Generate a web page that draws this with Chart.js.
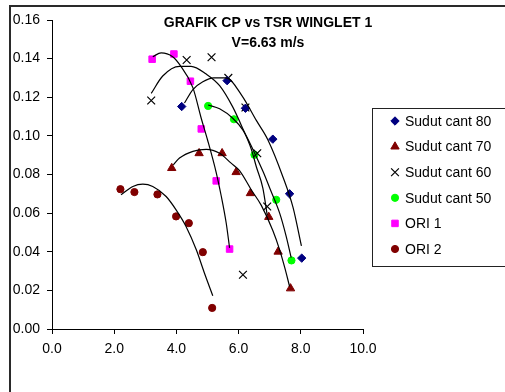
<!DOCTYPE html>
<html>
<head>
<meta charset="utf-8">
<script src="https://cdn.jsdelivr.net/npm/chart.js@4.4.1/dist/chart.umd.min.js"></script>
<style>
  html, body { margin: 0; padding: 0; background: #fff; overflow: hidden; }
  #wrap { position: relative; width: 505px; height: 392px; overflow: hidden; }
  canvas { position: absolute; left: 0; top: 0; }
</style>
</head>
<body>
<div id="wrap"><canvas id="cpChart" width="526" height="400"></canvas></div>
<script>
// Measured points (TSR, CP)
const tsr80 = [4.17, 5.63, 6.22, 7.10, 7.64, 8.03]
const cp80 = [0.1152, 0.1286, 0.1143, 0.0983, 0.0700, 0.0367]

const tsr70 = [3.85, 4.73, 5.47, 5.92, 6.38, 6.97, 7.27, 7.67]
const cp70 = [0.0833, 0.0910, 0.0910, 0.0812, 0.0703, 0.0580, 0.0400, 0.0210]

const tsr60 = [3.19, 4.33, 5.13, 5.67, 6.14, 6.22, 6.60, 6.92]
const cp60 = [0.1183, 0.1393, 0.1407, 0.1300, 0.0281, 0.1147, 0.0910, 0.0634]

const tsr50 = [5.02, 5.85, 6.51, 7.21, 7.70]
const cp50 = [0.1155, 0.1086, 0.0902, 0.0669, 0.0355]

const tsrOri1 = [3.22, 3.92, 4.45, 4.80, 5.28, 5.71]
const cpOri1 = [0.1397, 0.1424, 0.1283, 0.1036, 0.0767, 0.0414]

const tsrOri2 = [2.20, 2.65, 3.39, 3.99, 4.40, 4.85, 5.15]
const cpOri2 = [0.0724, 0.0709, 0.0697, 0.0583, 0.0548, 0.0398, 0.0109]

// Trendlines
const trend80X = [4.26, 4.53, 4.85, 5.20, 5.60, 6.10, 6.57, 6.94, 7.42, 7.75, 8.02]
const trend80Y = [0.117, 0.124, 0.128, 0.130, 0.130, 0.121, 0.108, 0.098, 0.079, 0.063, 0.043]

const trend70X = [3.90, 4.10, 4.53, 4.96, 5.39, 5.75, 6.03, 6.41, 6.73, 7.10, 7.32, 7.48, 7.64]
const trend70Y = [0.085, 0.0885, 0.092, 0.093, 0.091, 0.086, 0.082, 0.072, 0.064, 0.051, 0.041, 0.032, 0.022]

const trend60X = [3.19, 3.56, 4.10, 4.47, 4.96, 5.39, 5.81, 6.10, 6.41, 6.57, 6.78, 6.92]
const trend60Y = [0.122, 0.131, 0.136, 0.136, 0.132, 0.126, 0.115, 0.105, 0.093, 0.084, 0.073, 0.059]

const trend50X = [5.02, 5.39, 5.82, 6.14, 6.46, 6.80, 7.00, 7.32, 7.53, 7.69]
const trend50Y = [0.116, 0.114, 0.109, 0.103, 0.093, 0.081, 0.073, 0.060, 0.048, 0.037]

const trendOri1X = [3.24, 3.51, 3.88, 4.10, 4.53, 4.80, 5.00, 5.28, 5.44, 5.60, 5.71]
const trendOri1Y = [0.141, 0.143, 0.141, 0.137, 0.125, 0.109, 0.098, 0.081, 0.069, 0.055, 0.042]

const trendOri2X = [2.22, 2.60, 2.92, 3.24, 3.67, 3.99, 4.31, 4.64, 4.90, 5.17]
const trendOri2Y = [0.0695, 0.0738, 0.0750, 0.0738, 0.0686, 0.0617, 0.0531, 0.0410, 0.0290, 0.0172]

const xTicks = [0, 2, 4, 6, 8, 10]
const titleLines = ["GRAFIK CP vs TSR WINGLET 1", "V=6.63 m/s"]

const FONT = "'Liberation Sans', Arial, sans-serif"

function pts(xs, ys) {
  return xs.map((x, i) => ({ x: x, y: ys[i] }))
}

function trend(xs, ys) {
  return {
    data: pts(xs, ys),
    showLine: true,
    pointRadius: 0,
    pointHoverRadius: 0,
    borderColor: "#000000",
    borderWidth: 1.2,
    cubicInterpolationMode: "monotone",
    fill: false,
  }
}

function marker(label, xs, ys, style, radius, color, border) {
  return {
    label: label,
    inLegend: true,
    data: pts(xs, ys),
    showLine: false,
    pointStyle: style,
    pointRadius: radius,
    pointHoverRadius: radius,
    backgroundColor: style === "crossRot" ? "rgba(0,0,0,0)" : color,
    borderColor: color,
    borderWidth: border,
  }
}

// Frame, title and legend drawn like the Excel original
const excelFrame = {
  id: "excelFrame",
  beforeDraw(chart) {
    const ctx = chart.ctx
    ctx.save()
    ctx.fillStyle = "#ffffff"
    ctx.fillRect(0, 0, chart.width, chart.height)
    ctx.fillStyle = "#2a2a2a"
    ctx.fillRect(9, 5, chart.width, 2)
    ctx.fillRect(9, 5, 2, chart.height)
    ctx.restore()
  },
  afterDraw(chart) {
    const ctx = chart.ctx
    ctx.save()
    // title
    ctx.fillStyle = "#000"
    ctx.font = "bold 14px " + FONT
    ctx.textAlign = "center"
    ctx.textBaseline = "middle"
    const cx = (10 + chart.width) / 2
    titleLines.forEach((t, i) => ctx.fillText(t, cx, 23 + i * 20))

    // legend
    ctx.strokeStyle = "#222"
    ctx.lineWidth = 1
    ctx.strokeRect(372.5, 108.5, 200, 158)
    ctx.font = "14px " + FONT
    ctx.textAlign = "left"
    const items = chart.data.datasets.filter((d) => d.inLegend)
    items.forEach((d, i) => {
      const y = 121 + i * 25.6
      ctx.fillStyle = d.backgroundColor
      ctx.strokeStyle = d.borderColor
      ctx.lineWidth = d.borderWidth
      Chart.helpers.drawPoint(ctx, {
        pointStyle: d.pointStyle,
        radius: d.pointRadius,
        rotation: 0,
        borderWidth: d.borderWidth,
      }, 395, y)
      ctx.fillStyle = "#000"
      ctx.fillText(d.label, 405, y + 1)
    })
    ctx.restore()
  },
}

Chart.defaults.font.family = FONT

new Chart(document.getElementById("cpChart"), {
  type: "scatter",
  data: {
    datasets: [
      trend(trend80X, trend80Y),
      trend(trend70X, trend70Y),
      trend(trend60X, trend60Y),
      trend(trend50X, trend50Y),
      trend(trendOri1X, trendOri1Y),
      trend(trendOri2X, trendOri2Y),
      marker("Sudut cant 80", tsr80, cp80, "rectRot", 4.2, "#000080", 1),
      marker("Sudut cant 70", tsr70, cp70, "triangle", 4.8, "#800000", 1),
      marker("Sudut cant 60", tsr60, cp60, "crossRot", 5.5, "#000000", 1.2),
      marker("Sudut cant 50", tsr50, cp50, "circle", 3.6, "#00ff00", 1),
      marker("ORI 1", tsrOri1, cpOri1, "rect", 4.6, "#ff00ff", 1),
      marker("ORI 2", tsrOri2, cpOri2, "circle", 3.6, "#800000", 1),
    ],
  },
  options: {
    responsive: false,
    animation: false,
    devicePixelRatio: 1,
    layout: {
      padding: { left: 0, top: 20, right: 163, bottom: 31 },
    },
    scales: {
      x: {
        type: "linear",
        min: 0,
        max: 10,
        afterFit: (scale) => { scale.height = 40 },
        afterBuildTicks: (scale) => { scale.ticks = xTicks.map((v) => ({ value: v })) },
        ticks: {
          color: "#000",
          font: { size: 14 },
          padding: 7,
          maxRotation: 0,
          callback: (value) => Number(value).toFixed(1),
        },
        grid: { drawOnChartArea: false, tickLength: 5, color: "#000" },
        border: { color: "#000", width: 1 },
      },
      y: {
        type: "linear",
        min: 0,
        max: 0.16,
        afterFit: (scale) => { scale.width = 52 },
        ticks: {
          stepSize: 0.02,
          color: "#000",
          font: { size: 14 },
          padding: 7,
          callback: (value) => Number(value).toFixed(2),
        },
        grid: { drawOnChartArea: false, tickLength: 5, color: "#000" },
        border: { color: "#000", width: 1 },
      },
    },
    plugins: {
      legend: { display: false },
      title: { display: false },
      tooltip: { enabled: false },
    },
  },
  plugins: [excelFrame],
})
</script>
</body>
</html>
